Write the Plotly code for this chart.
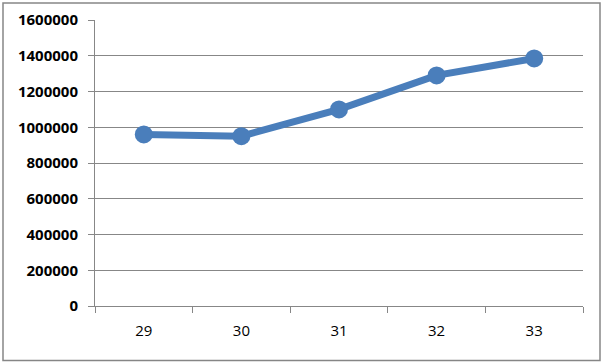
import plotly.graph_objects as go

categories = ["29", "30", "31", "32", "33"]
values = [960000, 950000, 1100000, 1290000, 1385000]
y_ticks = [0, 200000, 400000, 600000, 800000, 1000000, 1200000, 1400000, 1600000]

fig = go.Figure()
fig.add_trace(go.Scatter(
    x=categories, y=values, mode="lines+markers",
    line=dict(color="#4A7EBB", width=7),
    marker=dict(color="#4A7EBB", size=18),
    showlegend=False,
))

L, R, T, B = 95, 21, 20, 58
W, H = 604, 364
pw, ph = W - L - R, H - T - B

fig.update_layout(
    width=W, height=H,
    margin=dict(l=L, r=R, t=T, b=B, autoexpand=False),
    paper_bgcolor="white", plot_bgcolor="white",
    font=dict(family="Open Sans, Liberation Sans, Arial, sans-serif", color="#000000"),
    xaxis=dict(
        type="category", tickson="boundaries", range=[-0.5, 4.5],
        showline=True, linecolor="#878787", linewidth=1,
        ticks="outside", ticklen=6, tickcolor="#878787", automargin=False,
        showgrid=False, tickfont=dict(size=15), ticklabelstandoff=11,
    ),
    yaxis=dict(
        range=[0, 1600000], tickvals=y_ticks, ticktext=[str(v) for v in y_ticks],
        showline=True, linecolor="#878787", linewidth=1, automargin=False,
        ticks="outside", ticklen=6, tickcolor="#878787",
        showgrid=True, gridcolor="#878787", gridwidth=1, zeroline=False,
        tickfont=dict(size=15, weight="bold"),
        ticklabelstandoff=7,
    ),
    shapes=[dict(
        type="rect", xref="paper", yref="paper",
        x0=(3 - L) / pw, x1=(600 - L) / pw,
        y0=(H - B - 360.5) / ph, y1=(H - B - 3) / ph,
        line=dict(color="#868686", width=1.5), fillcolor="rgba(0,0,0,0)", layer="below",
    )],
)

fig.write_html("out.html")
